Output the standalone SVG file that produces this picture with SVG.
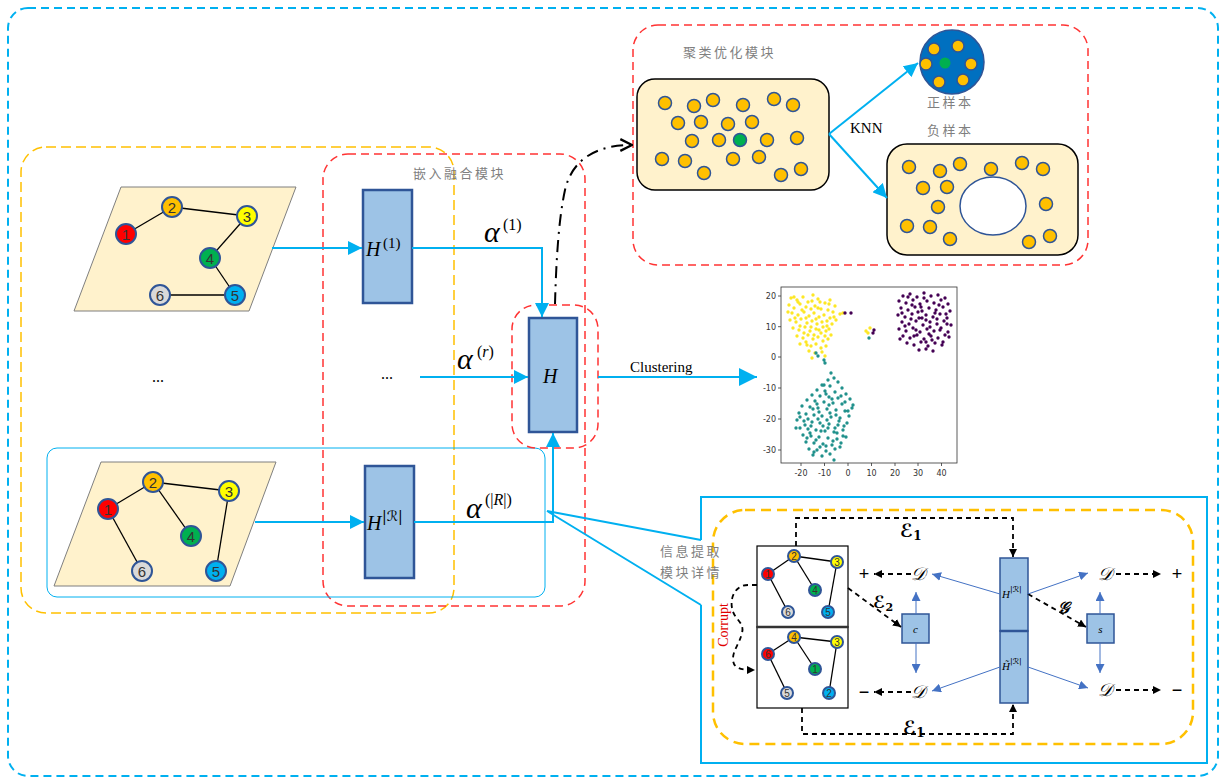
<svg xmlns="http://www.w3.org/2000/svg" width="1225" height="779" viewBox="0 0 1225 779">
<style>
.dashblue{fill:none;stroke:#00B0F0;stroke-width:2;stroke-dasharray:8,5}
.dashred{fill:none;stroke:#FF3333;stroke-width:1.5;stroke-dasharray:8,5}
.dashyel{fill:none;stroke:#FFC000;stroke-width:1.5;stroke-dasharray:10,5}
.para{fill:#FFF2CC;stroke:#7F7F7F;stroke-width:1}
.edge{stroke:#000;stroke-width:1.3}
.nd{stroke:#2F5597;stroke-width:2}
.num{font-family:"Liberation Sans",Arial,sans-serif;font-size:15px;fill:#333;text-anchor:middle}
.snum{font-family:"Liberation Sans",Arial,sans-serif;font-size:10px;fill:#333;text-anchor:middle}
.hbox{fill:#9DC3E6;stroke:#2F5597;stroke-width:2.5}
.sbox{fill:#9DC3E6;stroke:#2F5597;stroke-width:1.5}
.ba{fill:none;stroke:#00B0F0;stroke-width:2}
.math{font-family:"Liberation Serif","Times New Roman",serif;font-style:italic;fill:#000}
.sup{font-family:"Liberation Serif","Times New Roman",serif;fill:#000}
.cjk{font-family:"Noto Sans CJK SC","Noto Sans",sans-serif;font-size:13px;fill:#7F7F7F;letter-spacing:2.5px}
.dot{fill:#FFC000;stroke:#2F5597;stroke-width:1.5}
.bdash{fill:none;stroke:#000;stroke-width:1.8;stroke-dasharray:5,4}
.tb{fill:none;stroke:#4472C4;stroke-width:1}
.scr{font-family:"DejaVu Serif","DejaVu Sans",serif;font-style:italic;fill:#000}
.tick{font-family:"DejaVu Sans","Liberation Sans",sans-serif;font-size:8px;fill:#333}
</style>
<defs>
<marker id="ab" viewBox="0 0 10 10" refX="10" refY="5" markerWidth="14" markerHeight="14" orient="auto" markerUnits="userSpaceOnUse"><path d="M0,0 L10,5 L0,10 z" fill="#00B0F0"/></marker>
<marker id="abL" viewBox="0 0 10 10" refX="10" refY="5" markerWidth="18" markerHeight="18" orient="auto" markerUnits="userSpaceOnUse"><path d="M0,0 L10,5 L0,10 z" fill="#00B0F0"/></marker>
<marker id="ak" viewBox="0 0 10 10" refX="10" refY="5" markerWidth="8" markerHeight="8" orient="auto" markerUnits="userSpaceOnUse"><path d="M0,0 L10,5 L0,10 z" fill="#000"/></marker>
<marker id="at" viewBox="0 0 10 10" refX="10" refY="5" markerWidth="9" markerHeight="9" orient="auto" markerUnits="userSpaceOnUse"><path d="M0,0 L10,5 L0,10 z" fill="#4472C4"/></marker>
<marker id="ao" viewBox="0 0 12 12" refX="11" refY="6" markerWidth="14" markerHeight="14" orient="auto" markerUnits="userSpaceOnUse"><path d="M1,1 L11,6 L1,11" fill="none" stroke="#000" stroke-width="2"/></marker>
</defs>

<!-- containers -->
<g id="outer"><rect class="dashblue" x="8" y="8" width="1210" height="768" rx="20"/></g>
<g id="left-group"><rect class="dashyel" x="21" y="147" width="433" height="466" rx="25"/></g>
<g id="embed-module"><rect class="dashred" x="323" y="154" width="262" height="452" rx="25"/>
<text class="cjk" x="413" y="178">嵌入融合模块</text></g>
<g id="view-r"><rect fill="none" stroke="#00B0F0" stroke-width="1" x="47" y="448" width="498" height="149" rx="10"/></g>
<g id="fusion"><rect class="dashred" x="512" y="305" width="86" height="143" rx="24"/></g>

<!-- graph 1 -->
<g id="graph1">
<polygon class="para" points="121,187 296,187 249,311 74,311"/>
<line class="edge" x1="126" y1="234" x2="172" y2="207"/>
<line class="edge" x1="172" y1="207" x2="247" y2="216"/>
<line class="edge" x1="247" y1="216" x2="210" y2="258"/>
<line class="edge" x1="210" y1="258" x2="235" y2="295"/>
<line class="edge" x1="160" y1="295" x2="235" y2="295"/>
<circle class="nd" cx="126" cy="234" r="10" fill="#FF0000"/><text class="num" x="126" y="240">1</text>
<circle class="nd" cx="172" cy="207" r="10" fill="#FFC000"/><text class="num" x="172" y="213">2</text>
<circle class="nd" cx="247" cy="216" r="10" fill="#FFFF00"/><text class="num" x="247" y="222">3</text>
<circle class="nd" cx="210" cy="258" r="10" fill="#00B050"/><text class="num" x="210" y="264">4</text>
<circle class="nd" cx="235" cy="295" r="10" fill="#00B0F0"/><text class="num" x="235" y="301">5</text>
<circle class="nd" cx="160" cy="295" r="10" fill="#D9D9D9"/><text class="num" x="160" y="301">6</text>
</g>
<g id="ellipsis"><text class="sup" x="152" y="382" font-size="16">...</text><text class="sup" x="381" y="379" font-size="16">...</text></g>

<!-- graph R -->
<g id="graphR">
<polygon class="para" points="101,462 276,462 230,586 54,586"/>
<line class="edge" x1="108" y1="509" x2="153" y2="482"/>
<line class="edge" x1="153" y1="482" x2="229" y2="491"/>
<line class="edge" x1="153" y1="482" x2="191" y2="536"/>
<line class="edge" x1="108" y1="509" x2="142" y2="571"/>
<line class="edge" x1="229" y1="491" x2="216" y2="571"/>
<circle class="nd" cx="108" cy="509" r="10" fill="#FF0000"/><text class="num" x="108" y="515">1</text>
<circle class="nd" cx="153" cy="482" r="10" fill="#FFC000"/><text class="num" x="153" y="488">2</text>
<circle class="nd" cx="229" cy="491" r="10" fill="#FFFF00"/><text class="num" x="229" y="497">3</text>
<circle class="nd" cx="191" cy="536" r="10" fill="#00B050"/><text class="num" x="191" y="542">4</text>
<circle class="nd" cx="216" cy="571" r="10" fill="#00B0F0"/><text class="num" x="216" y="577">5</text>
<circle class="nd" cx="142" cy="571" r="10" fill="#D9D9D9"/><text class="num" x="142" y="577">6</text>
</g>

<!-- embedding boxes -->
<g id="H1"><rect class="hbox" x="363" y="190" width="49" height="113"/>
<text class="math" x="366" y="256" font-size="20">H</text><text class="sup" x="383" y="248" font-size="15">(1)</text></g>
<g id="HR"><rect class="hbox" x="365" y="466" width="49" height="112"/>
<text class="math" x="367" y="530" font-size="20">H</text><text class="scr" x="382" y="521" font-size="14" font-style="normal">|ℛ|</text></g>
<g id="H"><rect class="hbox" x="529" y="318" width="48" height="114"/>
<text class="math" x="543" y="383" font-size="20">H</text></g>

<!-- weights -->
<g id="weights">
<text class="math" x="484" y="242" font-size="30">α</text><text class="sup" x="503" y="230" font-size="16">(1)</text>
<text class="math" x="457" y="369" font-size="30">α</text><text class="sup" x="477" y="357" font-size="16">(<tspan font-style="italic">r</tspan>)</text>
<text class="math" x="466" y="518" font-size="30">α</text><text class="sup" x="485" y="505" font-size="16">(|<tspan font-style="italic">R</tspan>|)</text>
</g>
<text x="630" y="372" font-family="Liberation Serif,serif" font-size="15" fill="#000">Clustering</text>

<!-- cluster module -->
<g id="cluster-module">
<rect class="dashred" x="633" y="25" width="455" height="240" rx="25"/>
<text class="cjk" x="683" y="57">聚类优化模块</text>
</g>
<g id="cluster-box">
<rect x="637" y="79" width="192" height="111" rx="18" fill="#FFF2CC" stroke="#000" stroke-width="1.5"/>
<circle class="dot" cx="665" cy="103" r="6.5"/><circle class="dot" cx="694" cy="106" r="6.5"/><circle class="dot" cx="713" cy="100" r="6.5"/><circle class="dot" cx="743" cy="105" r="6.5"/><circle class="dot" cx="774" cy="99" r="6.5"/><circle class="dot" cx="793" cy="105" r="6.5"/>
<circle class="dot" cx="678" cy="123" r="6.5"/><circle class="dot" cx="701" cy="122" r="6.5"/><circle class="dot" cx="728" cy="124" r="6.5"/><circle class="dot" cx="752" cy="122" r="6.5"/>
<circle class="dot" cx="692" cy="141" r="6.5"/><circle class="dot" cx="719" cy="140" r="6.5"/><circle cx="740" cy="140" r="6.5" fill="#00B050" stroke="#2F5597" stroke-width="1.5"/><circle class="dot" cx="767" cy="140" r="6.5"/><circle class="dot" cx="797" cy="138" r="6.5"/>
<circle class="dot" cx="662" cy="159" r="6.5"/><circle class="dot" cx="685" cy="161" r="6.5"/><circle class="dot" cx="733" cy="159" r="6.5"/><circle class="dot" cx="759" cy="157" r="6.5"/>
<circle class="dot" cx="704" cy="173" r="6.5"/><circle class="dot" cx="781" cy="175" r="6.5"/><circle class="dot" cx="801" cy="169" r="6.5"/>
</g>
<g id="positive">
<circle cx="952" cy="62" r="32" fill="#0070C0" stroke="#2F5597" stroke-width="1.5"/>
<circle class="dot" cx="934" cy="49" r="6"/><circle class="dot" cx="958" cy="46" r="6"/><circle class="dot" cx="926" cy="64" r="6"/><circle cx="945" cy="63" r="5.5" fill="#00B050"/><circle class="dot" cx="971" cy="64" r="6"/><circle class="dot" cx="939" cy="82" r="6"/><circle class="dot" cx="963" cy="80" r="6"/>
<text class="cjk" x="927" y="107">正样本</text>
</g>
<g id="negative">
<text class="cjk" x="927" y="135">负样本</text>
<rect x="887" y="144" width="191" height="111" rx="20" fill="#FFF2CC" stroke="#000" stroke-width="1.5"/>
<ellipse cx="993" cy="206" rx="33" ry="29" fill="#FFF" stroke="#2F5597" stroke-width="1.5"/>
<circle class="dot" cx="909" cy="167" r="6.5"/><circle class="dot" cx="940" cy="171" r="6.5"/><circle class="dot" cx="960" cy="164" r="6.5"/><circle class="dot" cx="991" cy="169" r="6.5"/><circle class="dot" cx="1022" cy="163" r="6.5"/><circle class="dot" cx="1043" cy="169" r="6.5"/>
<circle class="dot" cx="923" cy="188" r="6.5"/><circle class="dot" cx="947" cy="187" r="6.5"/><circle class="dot" cx="938" cy="207" r="6.5"/><circle class="dot" cx="1046" cy="204" r="6.5"/>
<circle class="dot" cx="907" cy="226" r="6.5"/><circle class="dot" cx="930" cy="227" r="6.5"/><circle class="dot" cx="950" cy="239" r="6.5"/><circle class="dot" cx="1029" cy="242" r="6.5"/><circle class="dot" cx="1050" cy="236" r="6.5"/>
</g>
<text x="850" y="133" font-family="Liberation Serif,serif" font-size="15" fill="#000">KNN</text>

<!-- scatter plot -->
<g id="scatter">
<rect x="781" y="287" width="176" height="176" fill="#FFF" stroke="#333" stroke-width="0.8"/>
<g stroke="#333" stroke-width="0.8">
<path d="M778,296H781M778,326.7H781M778,357H781M778,388H781M778,419H781M778,450H781"/>
<path d="M801,463V466M824.5,463V466M848,463V466M871.5,463V466M895,463V466M918,463V466M941.5,463V466"/>
</g>
<g class="tick" text-anchor="end">
<text x="776" y="299">20</text><text x="776" y="330">10</text><text x="776" y="360">0</text><text x="776" y="391">-10</text><text x="776" y="422">-20</text><text x="776" y="453">-30</text>
</g>
<g class="tick" text-anchor="middle">
<text x="801" y="476">-20</text><text x="824.5" y="476">-10</text><text x="848" y="476">0</text><text x="871.5" y="476">10</text><text x="895" y="476">20</text><text x="918" y="476">30</text><text x="941.5" y="476">40</text>
</g>
<path stroke="#FDE725" stroke-width="3.4" stroke-linecap="round" fill="none" d="M791,298h0M797,300h0M803,297h0M812,301h0M818,299h0M825,303h0M830,300h0M835,306h0M789,305h0M794,308h0M800,304h0M806,307h0M815,306h0M821,309h0M828,310h0M833,312h0M792,313h0M798,315h0M804,312h0M809,316h0M814,313h0M819,317h0M824,315h0M830,318h0M836,320h0M790,320h0M796,322h0M801,319h0M807,323h0M812,321h0M817,324h0M822,322h0M827,326h0M832,324h0M793,328h0M799,330h0M805,327h0M810,331h0M816,329h0M821,333h0M826,331h0M831,335h0M797,336h0M803,338h0M808,335h0M813,339h0M818,337h0M823,341h0M828,339h0M800,344h0M806,342h0M811,346h0M816,344h0M821,348h0M826,346h0M809,351h0M815,353h0M822,352h0M812,358h0M825,356h0M818,308h0M802,310h0M808,302h0M795,318h0M827,321h0M811,327h0M819,330h0M804,333h0M825,336h0M798,302h0M834,317h0M813,295h0M806,318h0M800,326h0M814,335h0M788,312h0M820,302h0M829,329h0M816,319h0M823,327h0M807,345h0M829,304h0M794,297h0M811,309h0M843,313h0M840,314h0M866,331h0M870,328h0M868,333h0"/>
<path stroke="#440154" stroke-width="3.4" stroke-linecap="round" fill="none" d="M903,296h0M910,294h0M917,297h0M924,293h0M931,296h0M938,295h0M945,298h0M899,301h0M906,303h0M913,300h0M920,304h0M927,301h0M934,303h0M941,300h0M948,304h0M901,308h0M908,310h0M915,307h0M922,311h0M929,308h0M936,310h0M943,307h0M950,311h0M898,315h0M905,317h0M912,314h0M919,318h0M926,315h0M933,317h0M940,314h0M947,318h0M902,322h0M909,324h0M916,321h0M923,325h0M930,322h0M937,324h0M944,321h0M951,325h0M899,329h0M906,331h0M913,328h0M920,332h0M927,329h0M934,331h0M941,328h0M948,332h0M903,336h0M910,338h0M917,335h0M924,339h0M931,336h0M938,338h0M945,335h0M907,343h0M914,345h0M921,342h0M928,346h0M935,343h0M942,345h0M919,350h0M926,349h0M933,351h0M912,305h0M926,320h0M940,330h0M905,326h0M918,312h0M932,340h0M946,314h0M900,339h0M911,319h0M924,298h0M937,319h0M949,337h0M916,330h0M929,334h0M908,297h0M943,342h0M921,307h0M935,313h0M902,313h0M926,342h0M914,336h0M939,305h0M947,324h0M922,318h0M930,327h0M845,313h0M851,313h0M873,333h0M874,330h0"/>
<path stroke="#21918C" stroke-width="3.4" stroke-linecap="round" fill="none" d="M831,373h0M834,378h0M828,380h0M838,382h0M822,385h0M830,386h0M842,388h0M817,390h0M825,391h0M835,392h0M846,394h0M812,395h0M820,396h0M829,397h0M838,398h0M850,399h0M807,400h0M815,401h0M824,402h0M833,403h0M842,404h0M853,405h0M802,406h0M810,407h0M818,408h0M827,409h0M836,410h0M845,411h0M799,413h0M806,414h0M814,415h0M822,416h0M831,417h0M840,418h0M849,416h0M797,420h0M804,421h0M812,422h0M820,423h0M829,424h0M838,425h0M847,423h0M800,428h0M808,429h0M816,430h0M825,431h0M834,432h0M843,430h0M803,435h0M811,436h0M819,437h0M828,438h0M837,439h0M846,437h0M806,442h0M814,443h0M823,444h0M832,445h0M841,443h0M809,449h0M817,450h0M826,451h0M835,449h0M813,455h0M822,456h0M830,454h0M834,460h0M819,412h0M827,420h0M835,428h0M843,436h0M811,426h0M817,404h0M841,396h0M824,385h0M808,419h0M830,413h0M816,440h0M826,446h0M839,421h0M821,431h0M832,399h0M805,425h0M848,411h0M813,409h0M837,433h0M820,447h0M829,405h0M844,426h0M800,417h0M823,426h0M836,415h0M810,433h0M826,394h0M818,419h0M833,441h0M852,408h0M796,428h0M814,452h0M840,447h0M807,438h0M845,402h0M828,428h0M816,353h0M818,356h0M824,360h0M825,363h0M869,338h0"/>
</g>

<!-- detail panel -->
<g id="detail-panel">
<path d="M701,540 V497 H1207 V763 H701 V605" fill="none" stroke="#00B0F0" stroke-width="2"/>
<rect x="713" y="510" width="480" height="234" rx="32" fill="none" stroke="#FFC000" stroke-width="2.5" stroke-dasharray="10,6"/>
<text class="cjk" x="660" y="556">信息提取</text>
<text class="cjk" x="660" y="577">模块详情</text>
</g>
<g id="graph-orig">
<rect x="757" y="546" width="91" height="81" fill="#FFF" stroke="#000" stroke-width="1.2"/>
<line class="edge" stroke-width="1" x1="768" y1="574" x2="794" y2="556"/><line class="edge" stroke-width="1" x1="794" y1="556" x2="837" y2="562"/><line class="edge" stroke-width="1" x1="794" y1="556" x2="815" y2="590"/><line class="edge" stroke-width="1" x1="768" y1="574" x2="788" y2="612"/><line class="edge" stroke-width="1" x1="837" y1="562" x2="828" y2="612"/>
<circle class="nd" stroke-width="1.2" cx="768" cy="574" r="6" fill="#FF0000"/><text class="snum" x="768" y="578">1</text>
<circle class="nd" stroke-width="1.2" cx="794" cy="556" r="6" fill="#FFC000"/><text class="snum" x="794" y="560">2</text>
<circle class="nd" stroke-width="1.2" cx="837" cy="562" r="6" fill="#FFFF00"/><text class="snum" x="837" y="566">3</text>
<circle class="nd" stroke-width="1.2" cx="815" cy="590" r="6" fill="#00B050"/><text class="snum" x="815" y="594">4</text>
<circle class="nd" stroke-width="1.2" cx="828" cy="612" r="6" fill="#00B0F0"/><text class="snum" x="828" y="616">5</text>
<circle class="nd" stroke-width="1.2" cx="788" cy="612" r="6" fill="#D9D9D9"/><text class="snum" x="788" y="616">6</text>
</g>
<g id="graph-corrupt">
<rect x="757" y="627" width="91" height="81" fill="#FFF" stroke="#000" stroke-width="1.2"/>
<line x1="757" y1="627" x2="848" y2="627" stroke="#333" stroke-width="2.5"/>
<line class="edge" stroke-width="1" x1="768" y1="654" x2="794" y2="637"/><line class="edge" stroke-width="1" x1="794" y1="637" x2="837" y2="642"/><line class="edge" stroke-width="1" x1="794" y1="637" x2="815" y2="669"/><line class="edge" stroke-width="1" x1="768" y1="654" x2="787" y2="693"/><line class="edge" stroke-width="1" x1="837" y1="642" x2="829" y2="693"/>
<circle class="nd" stroke-width="1.2" cx="768" cy="654" r="6" fill="#FF0000"/><text class="snum" x="768" y="658">6</text>
<circle class="nd" stroke-width="1.2" cx="794" cy="637" r="6" fill="#FFC000"/><text class="snum" x="794" y="641">4</text>
<circle class="nd" stroke-width="1.2" cx="837" cy="642" r="6" fill="#FFFF00"/><text class="snum" x="837" y="646">3</text>
<circle class="nd" stroke-width="1.2" cx="815" cy="669" r="6" fill="#00B050"/><text class="snum" x="815" y="673">1</text>
<circle class="nd" stroke-width="1.2" cx="787" cy="693" r="6" fill="#D9D9D9"/><text class="snum" x="787" y="697">5</text>
<circle class="nd" stroke-width="1.2" cx="829" cy="693" r="6" fill="#00B0F0"/><text class="snum" x="829" y="697">2</text>
</g>
<g id="HRpos"><rect class="sbox" x="1000" y="558" width="28" height="73"/><text class="math" x="1002" y="598" font-size="11">H</text><text class="scr" x="1010" y="592" font-size="8" font-style="normal">|ℛ|</text></g>
<g id="HRneg"><rect class="sbox" x="1000" y="631" width="28" height="72"/><line x1="1000" y1="631" x2="1028" y2="631" stroke="#2F5597" stroke-width="2.5"/><text class="math" x="1002" y="670" font-size="11">H̃</text><text class="scr" x="1010" y="664" font-size="8" font-style="normal">|ℛ|</text></g>
<g id="c"><rect class="sbox" x="902" y="614" width="27" height="29"/><text class="math" x="915.5" y="633" font-size="11" text-anchor="middle">c</text></g>
<g id="s"><rect class="sbox" x="1087" y="614" width="27" height="29"/><text class="math" x="1100.5" y="633" font-size="11" text-anchor="middle">s</text></g>
<g id="D-labels" class="scr" font-size="18" text-anchor="middle">
<text x="918" y="580">𝒟</text><text x="918" y="698">𝒟</text><text x="1105" y="580">𝒟</text><text x="1105" y="696">𝒟</text>
</g>
<g id="signs" font-family="Liberation Sans,sans-serif" font-size="18" text-anchor="middle" fill="#000">
<text x="864" y="580">+</text><text x="864" y="698">−</text><text x="1177" y="580">+</text><text x="1177" y="696">−</text>
</g>
<g id="E-labels" class="scr" font-weight="bold">
<text x="900" y="537" font-size="18">ℰ<tspan font-size="12" dy="3" font-style="normal">1</tspan></text>
<text x="903" y="734" font-size="18">ℰ<tspan font-size="12" dy="3" font-style="normal">1</tspan></text>
<text x="873" y="608" font-size="17">ℰ<tspan font-size="11" dy="3" font-style="normal">2</tspan></text>
<text x="1058" y="613" font-size="16">𝒢</text>
</g>
<text x="728" y="625" transform="rotate(-90 728 625)" text-anchor="middle" font-family="Liberation Serif,serif" font-size="14" fill="#E00000">Corrupt</text>

<!-- connectors -->
<g id="connectors">
<path class="ba" d="M272,248 H362" marker-end="url(#ab)"/>
<path class="ba" d="M412,248 H542 V317" marker-end="url(#ab)"/>
<path class="ba" d="M420,377 H528" marker-end="url(#ab)"/>
<path class="ba" d="M255,522 H364" marker-end="url(#ab)"/>
<path class="ba" d="M414,522 H553 V433" marker-end="url(#ab)"/>
<path class="ba" d="M598,377 H757" marker-end="url(#abL)"/>
<path class="ba" d="M547,511 L701,540 M547,511 L701,605"/>
<path class="ba" d="M829,134 L918,63" marker-end="url(#ab)"/>
<path class="ba" d="M829,134 L887,198" marker-end="url(#ab)"/>
<path d="M555,304 C556,268 558,222 565,190 C572,160 595,145 632,145" fill="none" stroke="#000" stroke-width="2" stroke-dasharray="12,6,2,6" marker-end="url(#ao)"/>
<path class="bdash" d="M796,546 V518 H1013 V557" marker-end="url(#ak)"/>
<path class="bdash" d="M802,708 V734 H1013 V704" marker-end="url(#ak)"/>
<path class="bdash" d="M848,588 L901,627" marker-end="url(#ak)"/>
<path class="bdash" d="M1028,594 L1086,627" marker-end="url(#ak)"/>
<path class="bdash" d="M911,574 H874" marker-end="url(#ak)"/>
<path class="bdash" d="M911,692 H874" marker-end="url(#ak)"/>
<path class="bdash" d="M1116,574 H1161" marker-end="url(#ak)"/>
<path class="bdash" d="M1116,690 H1161" marker-end="url(#ak)"/>
<path class="bdash" d="M757,585 H748 C735,585 730,598 732,608 C734,620 745,622 742,633 C739,645 733,650 733,659 C733,668 740,670 755,670" marker-end="url(#ak)"/>
<path class="tb" d="M1000,594 L932,574" marker-end="url(#at)"/>
<path class="tb" d="M1000,667 L932,691" marker-end="url(#at)"/>
<path class="tb" d="M1028,594 L1088,573" marker-end="url(#at)"/>
<path class="tb" d="M1028,667 L1088,688" marker-end="url(#at)"/>
<path class="tb" d="M916,614 V592" marker-end="url(#at)"/>
<path class="tb" d="M916,643 V673" marker-end="url(#at)"/>
<path class="tb" d="M1100,614 V592" marker-end="url(#at)"/>
<path class="tb" d="M1100,643 V673" marker-end="url(#at)"/>
</g>
</svg>
